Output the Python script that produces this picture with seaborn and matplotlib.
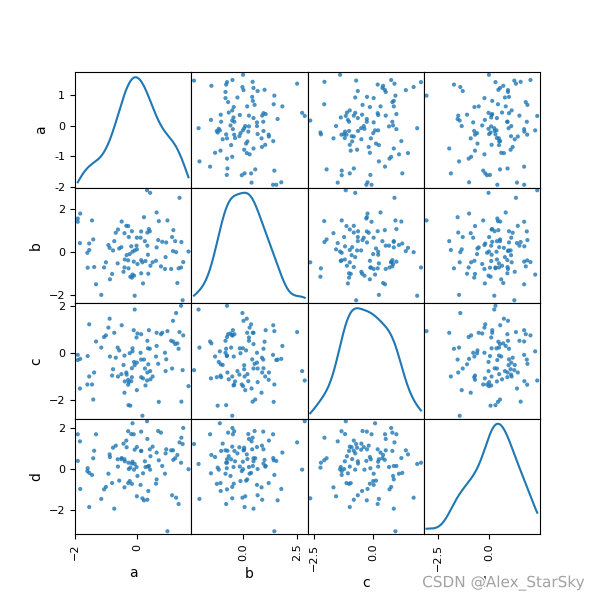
import numpy as np
import pandas as pd
import matplotlib
matplotlib.use("Agg")
import matplotlib.pyplot as plt
import matplotlib.patheffects as pe
import seaborn as sns

columns = ["a", "b", "c", "d"]

# (a, b) pairs
a_vals = [0.32, 0.42, 1.37, -1.84, -1.92, -1.92, -1.46, 0.63, 0.22, -0.50,
          -0.35, -0.29, 0.70, 0.98, -0.62, -0.69, -0.41, -0.17, 0.13, 0.38,
          0.41, 0.33, 1.17, -1.85, -1.55, -1.42, -0.74, -0.27, -0.01, 0.11,
          0.25, 0.68, 0.81, 0.94, 1.13, 1.23, 1.43, -0.93, -0.89, -1.55,
          -1.61, -0.78, -0.58, -0.51, -0.19, -0.02, -0.08, -0.01, -0.15, 0.33,
          0.63, 1.16, 1.26, 1.66, -0.34, -0.24, -0.40, -0.29, 0.35, 0.92,
          -1.01, -0.63, -0.11, 0.01, 0.13, 0.17, 0.27, 0.50, 0.61, 0.43,
          1.49, -1.60, -1.39, -1.07, -0.41, 0.77, 0.90, 1.10, 1.34, 1.42,
          -0.44, -0.81, -0.22, -0.15, -0.10, 0.13, 0.36, -0.88, -1.33, 0.19,
          1.30, -1.16, -0.08, 1.47, -0.17, -0.28]
b_vals = [2.85, 2.73, 2.50, 1.77, 1.54, 1.39, 1.45, 1.82, 1.60, 1.40,
          1.20, 1.19, 1.42, 1.45, 1.03, 0.88, 0.86, 0.95, 0.94, 1.05,
          0.95, 0.89, 1.00, 0.40, 0.38, 0.57, 0.49, 0.68, 0.65, 0.65,
          0.49, 0.54, 0.46, 0.43, 0.68, 0.49, 0.45, 0.31, 0.18, 0.08,
          -0.05, 0.06, 0.15, 0.21, 0.25, 0.28, 0.06, 0.11, 0.00, 0.28,
          0.20, 0.03, -0.02, 0.01, -0.16, -0.11, -0.36, -0.40, -0.14, -0.25,
          -0.49, -0.54, -0.46, -0.57, -0.39, -0.49, -0.43, -0.49, -0.42, -0.65,
          -0.48, -0.74, -0.71, -0.73, -0.73, -0.68, -0.80, -0.80, -0.77, -0.73,
          -0.93, -1.03, -1.16, -1.06, -1.11, -1.00, -1.02, -1.28, -1.51, -1.47,
          -1.45, -2.00, -2.04, -2.25, -1.20, -0.77]

# (c, d) pairs
c_vals = [-1.17, 0.07, 0.75, -1.35, -1.20, -0.46, -0.28, -0.08, 0.49, 0.80,
          0.97, 0.52, -2.07, -1.51, -0.83, -0.73, -0.51, -1.00, -0.92, -0.69,
          -0.41, -0.20, 0.89, -1.03, -0.83, -0.77, -0.52, -0.27, 0.18, 0.30,
          0.41, 0.52, 0.80, 1.37, 1.46, -1.98, -2.08, -2.22, -2.24, -1.12,
          -1.21, -0.90, -0.66, -0.65, -0.30, -0.15, -0.11, 0.23, 0.20, 0.38,
          0.48, 1.18, 1.85, 2.01, -1.38, -1.41, -1.34, -1.24, -1.00, -0.77,
          -0.38, -0.13, 0.20, 0.66, 0.86, 0.97, -1.34, -1.08, 0.01, 0.83,
          0.86, 1.08, 1.22, -1.14, -1.03, -0.96, -0.15, -0.01, 0.11, 0.01,
          -1.69, -0.25, -0.48, 0.68, 0.75, -1.58, -0.66, -0.83, -0.28, 0.23,
          0.18, -2.67, 1.70, -1.00, 0.86, 0.93]
d_vals = [2.35, 2.25, 2.02, 1.86, 1.72, 1.87, 1.84, 1.71, 1.71, 1.79,
          1.71, 1.48, 1.54, 1.36, 1.40, 1.23, 1.25, 1.10, 1.07, 1.05,
          1.08, 1.15, 1.31, 0.89, 0.90, 0.77, 0.95, 0.97, 0.97, 0.81,
          0.69, 0.92, 0.89, 0.92, 0.72, 0.53, 0.43, 0.31, 0.07, 0.63,
          0.38, 0.49, 0.38, 0.27, 0.40, 0.59, 0.48, 0.48, 0.36, 0.53,
          0.45, 0.54, 0.25, 0.31, 0.10, -0.01, -0.10, 0.00, 0.12, -0.03,
          -0.03, 0.04, 0.12, 0.10, 0.15, 0.15, -0.29, -0.21, -0.23, -0.34,
          -0.51, -0.23, -0.19, -0.69, -0.73, -0.69, -0.72, -0.59, -0.57, -0.78,
          -0.90, -0.98, -1.08, -1.00, -0.88, -1.34, -1.29, -1.51, -1.54, -1.47,
          -1.72, -1.44, -1.41, -1.87, -1.95, -3.06]

n = len(a_vals)
# pair the two independently read point clouds without ordering bias
order = (np.arange(n) * 59) % n
df = pd.DataFrame({"a": a_vals, "b": b_vals,
                   "c": np.asarray(c_vals)[order],
                   "d": np.asarray(d_vals)[order]})

blue = "#1f77b4"
fig, axes = plt.subplots(4, 4, figsize=(6, 6), dpi=100)
fig.subplots_adjust(wspace=0, hspace=0)

range_padding = 0.05
bounds = {}
for col in columns:
    lo, hi = df[col].min(), df[col].max()
    ext = (hi - lo) * range_padding / 2.0
    bounds[col] = (lo - ext, hi + ext)

for i, ri in enumerate(columns):
    for j, cj in enumerate(columns):
        ax = axes[i, j]
        if i == j:
            sns.kdeplot(x=df[ri], ax=ax, cut=0, color=blue, linewidth=1.5)
            for ln in ax.lines:
                ln.sticky_edges.x.clear()
                ln.sticky_edges.y.clear()
            ax.relim()
            ax.autoscale_view()
            ax.set_xlim(bounds[ri])
        else:
            sns.scatterplot(x=df[cj], y=df[ri], ax=ax, marker=".", s=36,
                            color=blue, alpha=0.8, edgecolor="none",
                            linewidth=0, legend=False)
            ax.set_xlim(bounds[cj])
            ax.set_ylim(bounds[ri])
        ax.set_xlabel(cj)
        ax.set_ylabel(ri)
        if j != 0:
            ax.yaxis.set_visible(False)
        if i != len(columns) - 1:
            ax.xaxis.set_visible(False)

# y ticks of the top-left density panel expressed in units of "a"
lim1 = bounds["a"]
locs = axes[0, 1].yaxis.get_majorticklocs()
locs = locs[(lim1[0] <= locs) & (locs <= lim1[1])]
adj = (locs - lim1[0]) / (lim1[1] - lim1[0])
lim0 = axes[0, 0].get_ylim()
adj = adj * (lim0[1] - lim0[0]) + lim0[0]
axes[0, 0].yaxis.set_ticks(adj)
axes[0, 0].yaxis.set_ticklabels([str(int(v)) for v in locs])

for ax in axes.flat:
    for lab in ax.get_xticklabels():
        lab.set_fontsize(8)
        lab.set_rotation(90)
    for lab in ax.get_yticklabels():
        lab.set_fontsize(8)
        lab.set_rotation(0)

fig.text(0.975, 0.028, "CSDN @Alex_StarSky", ha="right", va="center",
         fontsize=11, color="#a3a3a3",
         path_effects=[pe.withStroke(linewidth=2, foreground="white")])

fig.savefig("out.png", dpi=100)
